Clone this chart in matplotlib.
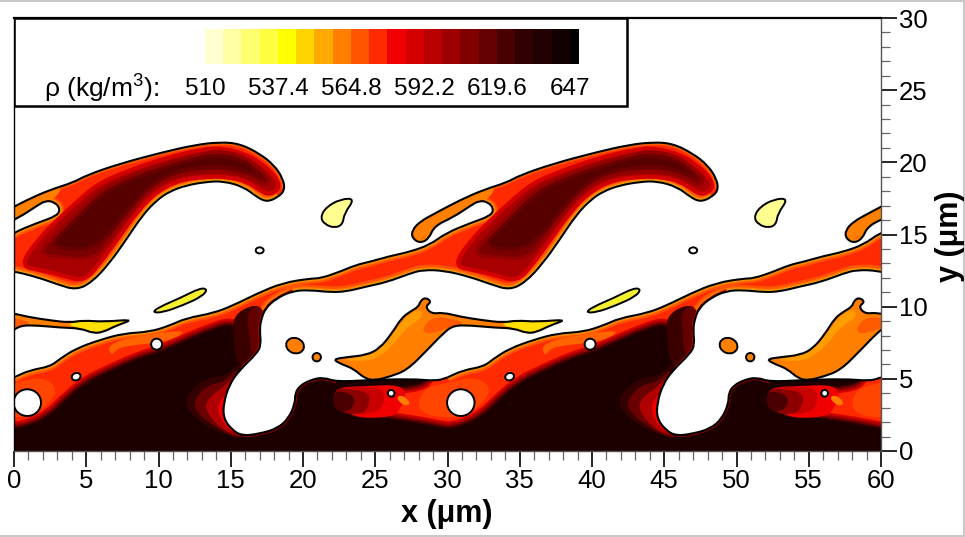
import numpy as np
import matplotlib
matplotlib.use('Agg')
import matplotlib.pyplot as plt
from matplotlib.path import Path
from matplotlib.patches import PathPatch, Ellipse, Rectangle
from matplotlib.colors import ListedColormap
from matplotlib.lines import Line2D

plt.rcParams['font.family'] = ['Liberation Sans', 'DejaVu Sans']
plt.rcParams['mathtext.default'] = 'regular'

# interface outlines, in um. one period is 30 um wide
layer_top = [(0, 5.1), (1.1, 5.6), (2.5, 5.85), (3.2, 6.4), (4.3, 7.1), (5.95, 7.7), (7.6, 8.15), (9.4, 8.25),
             (10.8, 8.7), (11.9, 9.2), (13.8, 9.55), (15.2, 10.1), (16.8, 10.9), (18.6, 11.65), (20.5, 11.95)]
band_top = [(21.2, 11.96), (22.5, 12.4), (23.7, 12.9), (24.6, 13.1), (26, 13.5), (27.4, 13.8), (28.8, 14.3),
            (29.9, 15.1), (31.6, 15.8), (33, 16.3), (33.2, 16.8), (32.8, 17.25), (32.2, 17.35), (31.6, 17.0),
            (30.4, 16.2), (29.1, 15.6), (28.7, 14.7), (28.1, 14.4), (27.55, 14.75), (27.55, 15.3), (28.1, 15.9)]
blob_top = [(29.2, 16.5), (30.9, 17.4), (32.5, 18.1), (34.1, 18.6), (35.0, 19.1), (37.3, 19.9), (40.3, 20.7),
            (42.5, 21.2), (44.2, 21.4), (45.6, 21.3), (47, 20.6), (48, 19.8), (48.6, 18.9), (48.75, 18.1)]
blob_under = [(48.3, 17.6), (47.5, 17.25), (46.8, 17.6), (45.9, 18.3), (44.5, 18.7), (43.3, 18.65), (41.9, 18.4),
              (40.8, 18.0), (39.9, 17.4), (38.9, 16.35), (37.8, 14.7), (36.6, 13.0), (35.4, 11.7), (34.3, 11.15),
              (33, 11.55), (31.6, 12.05), (29.8, 12.5)]
band_under = [(28.3, 12.55), (27.4, 12.3), (25.8, 11.7), (24.4, 11.4), (23, 11.05), (21.9, 11), (20.5, 11.15)]
hole_top = [(19.3, 11.1), (18.2, 10.6), (17.4, 9.9), (17.1, 9.1), (17, 8.4), (17.1, 7.35), (16.8, 6.75)]
hole_left = [(15.6, 5.6), (14.9, 4.6), (14.5, 3.3), (14.5, 2.25), (15.1, 1.45), (15.8, 1.05)]
hole_right = [(17, 1.2), (18.2, 1.55), (19, 2.25), (19.45, 3.3), (19.45, 4), (19.8, 4.55), (20.6, 4.95)]
layer_right = [(21.4, 5.1), (22.3, 4.8), (24.4, 4.9), (27.4, 5), (29.25, 4.85), (30, 5.1)]

# dark core of the big blob, outer to inner
core_1 = [(30.4, 12.8), (31.6, 14.6), (33.2, 16.2), (34.4, 17.3), (35.8, 18.5), (37.6, 19.3), (40.3, 20.25), (43.3, 20.95),
          (44.5, 20.95), (45.9, 20.6), (47, 20), (48.1, 19.05), (48.4, 18.2), (47.7, 17.75), (47.1, 18), (46.1, 18.7),
          (44.7, 19), (43.3, 19), (41.5, 18.8), (39.9, 18), (38.6, 16.7), (37.1, 14.6), (35.8, 12.8),
          (34.8, 11.75), (33.4, 12.15), (32, 12.5)]
core_2 = [(31.6, 13.6), (33.1, 15.2), (34.6, 16.7), (36, 18.1), (38, 19.05), (40.55, 19.95), (43.3, 20.7), (44.5, 20.75),
          (45.9, 20.4), (46.8, 19.75), (47.8, 18.85), (47.4, 18.3), (46.3, 19), (44.7, 19.35), (43.3, 19.35),
          (41.2, 19.1), (39.6, 18.3), (38.25, 16.8), (36.7, 14.7), (35.5, 13.3), (33.65, 13.4)]
core_3 = [(32.4, 14.2), (34.1, 15.8), (35.8, 17.6), (37.8, 18.75), (40.8, 19.75), (43.3, 20.45), (44.5, 20.45),
          (45.75, 20.15), (46.8, 19.4), (47.2, 18.9), (46.1, 19.4), (44.7, 19.7), (43.3, 19.7), (41, 19.35),
          (39.2, 18.2), (37.8, 16.6), (36.3, 14.7), (34.8, 13.85)]

# black part of the bottom layer
dark_edge = [(0, 1.5), (1.1, 1.7), (2.5, 2.4), (3.6, 3.5), (5, 4.7), (6.9, 5.6), (8.7, 6.4), (10.1, 6.8), (11.9, 7.6),
             (13.8, 8.4), (15.2, 8.8), (15.7, 7.5), (15.7, 6.2), (18, 5.5), (21, 5.6), (25, 5.6), (28.5, 5.5),
             (28.5, 4.75), (26.5, 4.45), (24.5, 4.3), (23, 4.0), (22.1, 3.4),
             (22.55, 2.84), (23.9, 2.5), (26.2, 2.15), (28.1, 1.87), (30, 1.5)]
strip_dark = [(15.1, 9), (15.7, 9.8), (17, 10.2), (17.4, 9.2), (17.1, 8), (17.2, 7.2), (15.9, 5.5), (15.3, 6.5), (15.2, 8)]
strip_mid = [(16.1, 9.6), (17, 10.2), (17.4, 9.2), (17.1, 8), (17.2, 7.2), (16.4, 6.5), (16.3, 8)]

# glow left of the hole, outer to inner
glow_1 = [(15.8, 6.4), (14.7, 5.2), (13.3, 5.05), (12.2, 4.2), (11.8, 3.3), (12.4, 2.4), (13.6, 1.55), (15, 1), (16, 0.8), (16, 3)]
glow_2 = [(15.6, 5.9), (14.6, 4.8), (13.5, 4.6), (12.7, 3.9), (12.4, 3.2), (12.9, 2.4), (13.9, 1.7), (15, 1.05), (16, 0.9), (16, 3)]
glow_3 = [(15.5, 5.5), (14.5, 4.4), (13.7, 3.9), (13.2, 3.2), (13.5, 2.4), (14.3, 1.6), (15, 1.2), (16, 1), (16, 3)]
glow_4 = [(15.3, 5.3), (14.6, 3.9), (14.1, 3.2), (14.2, 2.4), (14.8, 1.5), (15.5, 1.2), (16, 2.5)]

# fade on the left end of the lit zone
fade_0 = [(22, 4.4), (24.5, 4.5), (26.5, 4.6), (27.2, 4.1), (26.8, 3), (26.2, 2.3), (23, 2.3)]
fade_1 = [(22, 4.4), (24, 4.4), (25.4, 4.4), (25.7, 3.6), (25.2, 2.6), (22.5, 2.5)]
fade_2 = [(22, 4.3), (23.5, 4.3), (24.6, 4), (24.6, 3.3), (24.2, 2.55), (22.4, 2.6)]
fade_3 = [(22, 4.1), (23, 4.1), (23.6, 3.7), (23.5, 3.1), (23, 2.7), (22.2, 2.8)]

finger_fill = [(27.3, 14.2), (29, 15.2), (31, 16.5), (32.8, 17.4), (33.5, 18.5), (30, 18), (27, 16)]
lit_patch_1 = [(6.7, 6.5), (7.2, 7.2), (9, 7.4), (11, 7.7), (12, 8.4), (9.5, 8.1), (6.5, 7.5)]
lit_patch_2 = [(26.4, 3.7), (26.9, 3.9), (27.5, 3.3), (27, 3.1)]
lit_patch_3 = [(27.8, 3), (28.4, 4.4), (30, 4.7), (32, 5.2), (33.2, 4.2), (31.5, 2.4), (29, 2.3)]

# separate drops
spike = [(22.05, 6.35), (23, 6.5), (24.4, 6.65), (25.3, 7.1), (26.15, 8.15), (26.8, 9.2), (27.4, 9.65), (28, 10),
         (28.1, 10.35), (28.45, 10.65), (28.9, 10.35), (28.45, 10), (28.9, 9.5), (29.7, 9.6), (30.9, 9.3), (32.5, 9.05),
         (33.85, 8.9), (34.8, 9.05), (36.2, 8.95), (38.3, 9.12), (37.1, 8.7), (36.2, 8.25), (35.5, 8.15), (34.6, 8.5),
         (33.2, 8.55), (31.6, 8.7), (30.4, 8.7), (29.7, 8.15), (28.6, 7), (27.2, 5.6), (26, 5.15), (25, 4.9), (24.3, 5),
         (23.5, 5.7), (22.7, 6)]
spike_light = [(22.5, 6.3), (24.5, 6.6), (25.4, 7.1), (26.3, 8.2), (27, 9.2), (28, 9.9), (28.4, 9.3), (27.2, 8.6),
               (26.2, 7.3), (25.5, 6.7), (24.5, 6.2)]
spike_red = [(28.3, 8.6), (29, 9.3), (30.2, 9.2), (31.3, 8.85), (30.2, 8.6), (29, 8.15), (28.4, 8.15)]
spike_tail = [(33.6, 8.8), (34.8, 9), (36.2, 8.9), (38.1, 9.1), (37.1, 8.7), (36.2, 8.3), (35.5, 8.2), (34.6, 8.5)]
lens = [(9.55, 9.6), (10.1, 10), (11.5, 10.6), (12.9, 11.3), (13.4, 11.2), (13, 10.7), (11.7, 10.1), (10.3, 9.6)]
tadpole = [(23.6, 17.5), (22.6, 17.45), (21.6, 16.9), (21.2, 16.2), (21.5, 15.7), (22.2, 15.45), (22.75, 15.7), (22.85, 16.45)]

# x, y, width, height, angle
bubbles = [(0.92, 3.35, 1.9, 1.85, 0), (4.3, 5.15, 0.62, 0.5, 20), (9.87, 7.4, 0.76, 0.76, 0),
           (26.1, 4.0, 0.46, 0.46, 0), (17.0, 13.9, 0.55, 0.42, 0)]
drops = [(19.45, 7.3, 1.25, 1.05, -20), (20.95, 6.5, 0.58, 0.58, 0)]

# legend
rho_colors = ['#ffffd0', '#ffffa4', '#ffff70', '#ffff40', '#ffff00', '#ffd500', '#ffaa00', '#ff8000', '#ff5500', '#ff2a00',
              '#f00000', '#d40000', '#b80000', '#9c0000', '#800000', '#640000', '#480000', '#300000', '#200000', '#100000', '#000000']
rho_ticks = [510, 537.4, 564.8, 592.2, 619.6, 647]
rho_labels = ['510', '537.4', '564.8', '592.2', '619.6', '647']
rho_edges = list(np.linspace(510, 647, 21)) + [650.4]

period_shifts = [-30, 0, 30]


def smooth(pts, closed=False):
    p = np.asarray(pts, float)
    if closed:
        p = np.vstack([p, p[:2]])
    mids = (p[:-1] + p[1:]) / 2
    if closed:
        verts = [mids[0]]
        codes = [Path.MOVETO]
    else:
        verts = [p[0], mids[0]]
        codes = [Path.MOVETO, Path.LINETO]
    for i in range(1, len(p) - 1):
        verts += [p[i], mids[i]]
        codes += [Path.CURVE3, Path.CURVE3]
    if closed:
        verts.append(mids[0])
        codes.append(Path.CLOSEPOLY)
    else:
        verts.append(p[-1])
        codes.append(Path.LINETO)
    return Path(np.array(verts), codes)


def shifted(path, dx):
    return Path(path.vertices + [dx, 0], path.codes)


def floor_closed(curve):
    verts = np.vstack([curve.vertices, [(30, 0), (0, 0), (0, 0)]])
    codes = list(curve.codes) + [Path.LINETO, Path.LINETO, Path.CLOSEPOLY]
    return Path(verts, codes)


fig = plt.figure(figsize=(9.65, 5.37), dpi=100)
ax = fig.add_axes([14 / 965, 86 / 537, 867 / 965, 433 / 537])
ax.set_xlim(0, 60)
ax.set_ylim(0, 30)

surface = layer_top + band_top + blob_top + blob_under + band_under + hole_top + hole_left + hole_right + layer_right
surface_path = smooth(surface)
region_one = floor_closed(surface_path)
region = Path.make_compound_path(*[shifted(region_one, d) for d in period_shifts])


def draw(path, fc='none', ec='none', lw=0, clip=True, **kw):
    for d in period_shifts:
        p = PathPatch(shifted(path, d), facecolor=fc, edgecolor=ec, linewidth=lw, **kw)
        ax.add_patch(p)
        if clip:
            p.set_clip_path(region, ax.transData)


# base colour of the liquid
ax.add_patch(PathPatch(region, facecolor='#ff2a00', edgecolor='none'))

# edge gradients
edge_upper = smooth(layer_top + band_top)
edge_lower = smooth(blob_under + band_under + hole_top)
edge_blob = smooth(blob_top)
draw(edge_upper, ec='#ff5500', lw=7)
draw(edge_upper, ec='#ff8000', lw=4)
draw(edge_lower, ec='#ff5500', lw=8)
draw(edge_lower, ec='#ff8000', lw=4.5)
draw(edge_upper, ec='#ffaa00', lw=2)
draw(edge_blob, ec='#ff5500', lw=4)
draw(edge_blob, ec='#ffaa00', lw=1.5)
draw(smooth(finger_fill, True), fc='#ff8000')

# blob core
draw(smooth(core_1, True), fc='#a80000', ec='#d40000', lw=3)
draw(smooth(core_2, True), fc='#7a0000', ec='#920000', lw=2.5)
draw(smooth(core_3, True), fc='#560000', ec='#680000', lw=2.5)
draw(edge_lower, ec='#ffd500', lw=2)

# lit patches
draw(smooth(lit_patch_3, True), fc='#ff4500')
draw(smooth(lit_patch_1, True), fc='#ff6400')

# bottom layer
dark_path = floor_closed(smooth(dark_edge))
for lw, c in [(11, '#d40000'), (8, '#9c0000'), (5, '#640000'), (2.5, '#300000')]:
    draw(dark_path, ec=c, lw=lw)
draw(dark_path, fc='#1c0000')
draw(smooth(strip_dark, True), fc='#3a0000')
draw(smooth(strip_mid, True), fc='#640000')
draw(smooth(hole_top + hole_left), ec='#c80000', lw=2.5)
draw(smooth(hole_left + hole_right + layer_right[:2]), ec='#800000', lw=3)
for pts, c in [(fade_0, '#f00000'), (fade_1, '#c80000'), (fade_2, '#8c0000'), (fade_3, '#4a0000')]:
    draw(smooth(pts, True), fc=c)
draw(smooth(lit_patch_2, True), fc='#ff8000')
for pts, c in [(glow_1, '#340000'), (glow_2, '#6a0000'), (glow_3, '#b00000'), (glow_4, '#f00000')]:
    draw(smooth(pts, True), fc=c)

# interface line
for d in period_shifts:
    ax.add_patch(PathPatch(shifted(surface_path, d), facecolor='none', edgecolor='black', linewidth=1.5))

# free pieces
draw(smooth(spike, True), fc='#ff8000', clip=False)
draw(smooth(spike_light, True), fc='#ff9c00', clip=False)
draw(smooth(spike_red, True), fc='#ff5a00', clip=False)
draw(smooth(spike_tail, True), fc='#ffe000', clip=False)
draw(smooth(spike, True), ec='black', lw=1.5, clip=False)
draw(smooth(lens, True), fc='#f4f030', ec='black', lw=1.4, clip=False)
draw(smooth(tadpole, True), fc='#ffff90', ec='black', lw=1.4, clip=False)
for d in period_shifts:
    for x, y, w, h, a in drops:
        ax.add_patch(Ellipse((x + d, y), w, h, angle=a, facecolor='#ff8000', edgecolor='black', linewidth=1.4))
    for x, y, w, h, a in bubbles:
        ax.add_patch(Ellipse((x + d, y), w, h, angle=a, facecolor='white', edgecolor='black', linewidth=1.4))

# axes
ax.set_xticks(np.arange(0, 61, 5))
ax.set_xticks(np.arange(0, 61, 1), minor=True)
ax.set_yticks(np.arange(0, 31, 5))
ax.set_yticks(np.arange(0, 31, 1), minor=True)
ax.yaxis.tick_right()
ax.tick_params(which='major', length=11.5, width=1.2, color='black', labelsize=18.5, pad=1.5)
ax.tick_params(which='minor', length=6.5, width=0.9, color='#666666')
for side, lw, c in [('top', 1.6, 'black'), ('left', 1, 'black'), ('bottom', 1, '#555555'), ('right', 1, '#555555')]:
    ax.spines[side].set_linewidth(lw)
    ax.spines[side].set_color(c)
    ax.spines[side].set_zorder(6)

fig.text(447 / 965, 1 - 514 / 537, 'x (\u03bcm)', fontsize=22, fontweight='bold', ha='center', va='center')
fig.text(950 / 965, 1 - 236 / 537, 'y (\u03bcm)', fontsize=22, fontweight='bold', rotation=90, ha='center', va='center')

# legend box
ax.add_patch(Rectangle((0, 23.9), 42.4, 6.1, facecolor='white', edgecolor='black', linewidth=1.8, zorder=5))
bar = fig.add_axes([205 / 965, 1 - 64 / 537, 374 / 965, 35 / 537], zorder=7)
bar.pcolormesh(rho_edges, [0, 1], [np.arange(len(rho_colors))], cmap=ListedColormap(rho_colors))
bar.set_axis_off()
for val, lab in zip(rho_ticks, rho_labels):
    bar.text(val, 1 - (89 - 29) / 35, lab, fontsize=17.5, ha='center', va='center', transform=bar.get_xaxis_transform())
fig.text(44 / 965, 1 - 89 / 537, r'ρ (kg/m$^3$):', fontsize=19, ha='left', va='center', zorder=8)

# thin grey frame of the picture
for xs, ys in [([0, 1], [0.999, 0.999]), ([0.999, 0.999], [0, 1]), ([0, 1], [0.002, 0.002])]:
    fig.add_artist(Line2D(xs, ys, color='#c8c8c8', linewidth=1.5))

fig.savefig('out.png', dpi=100)
